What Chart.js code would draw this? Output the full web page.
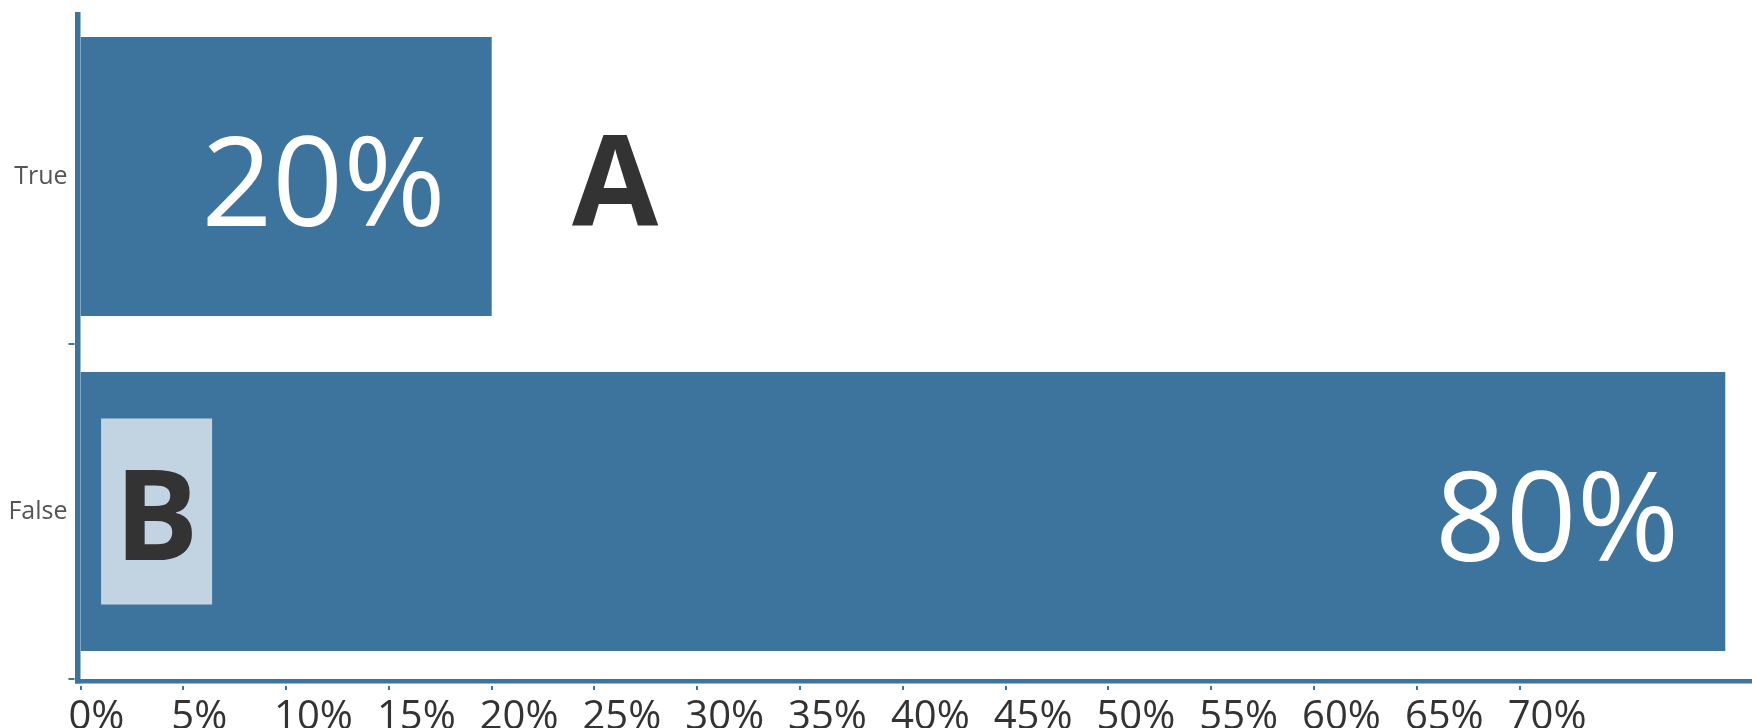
<!DOCTYPE html>
<html>
<head>
<meta charset="utf-8">
<script src="https://cdn.jsdelivr.net/npm/chart.js@4.4.1/dist/chart.umd.min.js"></script>
<style>
  html, body { margin: 0; padding: 0; background: #ffffff; }
  #wrap { width: 1752px; height: 728px; position: relative; }
</style>
</head>
<body>
<div id="wrap"><canvas id="c" width="1752" height="728"></canvas></div>
<script>
// Share of answers per category (percent)
const categories = ['True', 'False'];
const shares = [20, 80];

// Horizontal axis: tick labels and the extent of the value axis
const tickValues = [0, 5, 10, 15, 20, 25, 30, 35, 40, 45, 50, 55, 60, 65, 70];
const axisMax = 81.3;

// Letter markers: one per category, placed in value units along the bar axis
const markerLetters = ['A', 'B'];
const markerAt = [26, 3.7];
const markerBoxFrom = [null, 1.0];
const markerBoxTo = [null, 6.4];

const BAR = '#3d749d';
const AXIS = '#3d749d';
const INK = '#333333';
const BOX = '#c2d4e1';
const FONT = "'Open Sans', 'DejaVu Sans', sans-serif";

function noScalePadding(scale) {
  scale.paddingTop = 0;
  scale.paddingBottom = 0;
  scale.paddingLeft = 0;
  scale.paddingRight = 0;
}

const decorations = {
  id: 'decorations',
  afterDatasetsDraw(chart) {
    const ctx = chart.ctx;
    const area = chart.chartArea;
    const xs = chart.scales.x;
    const ys = chart.scales.y;
    const bars = chart.getDatasetMeta(0).data;
    ctx.save();

    // axis lines
    ctx.fillStyle = AXIS;
    ctx.fillRect(area.left - 5.5, area.top + 3, 5.5, area.bottom + 4.5 - (area.top + 3));
    ctx.fillRect(area.left - 5.5, area.bottom, chart.width - (area.left - 5.5), 4.5);

    // x tick marks
    xs.ticks.forEach((t, i) => {
      const px = xs.getPixelForTick(i);
      ctx.fillRect(Math.round(px) - 1, area.bottom + 7, 2, 4);
    });
    // y tick marks at category boundaries
    for (let i = 1; i < categories.length; i++) {
      const b = (ys.getPixelForValue(i - 1) + ys.getPixelForValue(i)) / 2;
      ctx.fillRect(area.left - 12, Math.round(b) - 1, 6, 2);
    }
    ctx.fillRect(area.left - 12, area.bottom - 1, 6, 2);

    // value labels inside bar ends
    ctx.font = '400 124px ' + FONT;
    ctx.fillStyle = '#ffffff';
    ctx.textAlign = 'right';
    ctx.textBaseline = 'alphabetic';
    bars.forEach((bar, i) => {
      ctx.fillText(shares[i] + '%', bar.x - 46, bar.y + 49);
    });

    // letter markers
    bars.forEach((bar, i) => {
      const cx = xs.getPixelForValue(markerAt[i]);
      if (markerBoxFrom[i] !== null) {
        const x0 = xs.getPixelForValue(markerBoxFrom[i]);
        const x1 = xs.getPixelForValue(markerBoxTo[i]);
        const h = bar.height;
        ctx.fillStyle = BOX;
        ctx.fillRect(x0, bar.y - h / 3, x1 - x0, h * 2 / 3);
      }
      ctx.font = 'bold 125px ' + FONT;
      ctx.fillStyle = INK;
      ctx.textAlign = 'center';
      ctx.fillText(markerLetters[i], cx, bar.y + 48.5);
    });
    ctx.restore();
  }
};

new Chart(document.getElementById('c'), {
  type: 'bar',
  data: {
    labels: categories,
    datasets: [{
      data: shares,
      backgroundColor: BAR,
      borderWidth: 0,
      categoryPercentage: 1.0,
      barPercentage: 0.833
    }]
  },
  options: {
    indexAxis: 'y',
    responsive: false,
    animation: false,
    devicePixelRatio: 1,
    layout: { padding: { top: 9, right: 0, bottom: 0, left: 0 } },
    plugins: { legend: { display: false }, tooltip: { enabled: false } },
    scales: {
      x: {
        min: 0,
        max: axisMax,
        afterBuildTicks(scale) { scale.ticks = tickValues.map(v => ({ value: v })); },
        afterFit(scale) { scale.height = 49; noScalePadding(scale); },
        grid: { display: false, drawTicks: false },
        border: { display: false },
        ticks: {
          align: 'start',
          labelOffset: -12,
          padding: 15,
          autoSkip: false,
          maxRotation: 0,
          color: INK,
          font: { family: FONT, size: 40 },
          callback: v => v + '%'
        }
      },
      y: {
        afterFit(scale) { scale.width = 80.5; noScalePadding(scale); },
        grid: { display: false, drawTicks: false },
        border: { display: false },
        ticks: {
          padding: 13,
          color: '#555555',
          font: { family: FONT, size: 25 }
        }
      }
    }
  },
  plugins: [decorations]
});
</script>
</body>
</html>
